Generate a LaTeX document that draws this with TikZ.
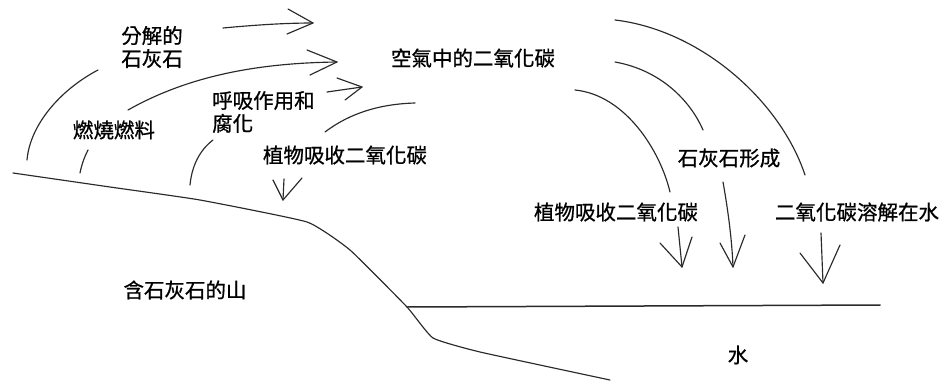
\documentclass[tikz,border=0pt]{standalone}
\usepackage{fontspec}
\newfontfamily\cjk[FakeBold=0.8]{Noto Sans CJK TC}
\definecolor{ink}{HTML}{2A2A2A}
\begin{document}
\begin{tikzpicture}[x=1pt,y=-1pt,
  stroke/.style={draw=ink,line width=1.15pt,line cap=round,line join=round},
  lbl/.style={inner sep=0pt,font=\cjk\fontsize{20.5}{23}\selectfont,text=black,align=left}]
\useasboundingbox[fill=white] (0,0) rectangle (946,383);

% ground and water
\draw[stroke] plot[smooth,tension=0.25] coordinates {(13,173) (110,187) (200,200) (307,222) (350,250) (407,307) (433,338) (480,352) (610,380)};
\coordinate (wl) at (407,307);
\coordinate (wr) at (880,305);
\draw[stroke,line width=1.5pt] (wl) -- (wr);

% labels
\node[lbl] (lime) at (152,47) {分解的\\石灰石};
\node[lbl] (air) at (473,58) {空氣中的二氧化碳};
\node[lbl] (burn) at (114,130) {燃燒燃料};
\node[lbl,anchor=west] (resp) at (212,112) {呼吸作用和\\腐化};
\node[lbl] (plantL) at (345,155) {植物吸收二氧化碳};
\node[lbl] (form) at (729,158) {石灰石形成};
\node[lbl] (plantR) at (616,212) {植物吸收二氧化碳};
\node[lbl] (diss) at (857,212) {二氧化碳溶解在水};
\node[lbl] (mount) at (185,290) {含石灰石的山};
\node[lbl] (water) at (738,355) {水};

% left side arcs (rising)
\coordinate (a1s) at (27,160); \coordinate (a1e) at (98,70);
\draw[stroke] (a1s) .. controls (30,125) and (60,90) .. (a1e);
\coordinate (a2s) at (80,173); \coordinate (a2e) at (88,150);
\draw[stroke] (a2s) .. controls (82,163) and (85,156) .. (a2e);
\coordinate (a3s) at (190,185); \coordinate (a3e) at (213,140);
\draw[stroke] (a3s) .. controls (192,165) and (200,150) .. (a3e);

% top arrow
\coordinate (t1s) at (223,28); \coordinate (t1e) at (313,23);
\draw[stroke] (t1s) .. controls (255,25) and (285,23) .. (t1e);
\draw[stroke] (288,9) -- (t1e) -- (287,34);

% second arrow
\coordinate (t2s) at (128,110); \coordinate (t2e) at (337,62);
\draw[stroke] (t2s) .. controls (190,75) and (260,63) .. (t2e);
\draw[stroke] (307,50) -- (t2e) -- (310,75);

% third arrow
\coordinate (t3s) at (327,92); \coordinate (t3e) at (362,87);
\draw[stroke] (t3s) -- (t3e);
\draw[stroke] (337,78) -- (t3e) -- (345,100);

% descending arc on left
\coordinate (d0s) at (325,132); \coordinate (d0e) at (415,103);
\draw[stroke] (d0s) .. controls (350,113) and (380,104) .. (d0e);
\coordinate (v0a) at (284,179); \coordinate (v0t) at (283,200);
\draw[stroke] (v0a) -- (v0t);
\draw[stroke] (273,180) -- (v0t) -- (302,178);

% right side arcs
\coordinate (rAs) at (575,90); \coordinate (rAe) at (670,192);
\draw[stroke] (rAs) .. controls (625,95) and (660,150) .. (rAe);
\coordinate (rBs) at (615,62); \coordinate (rBe) at (703,130);
\draw[stroke] (rBs) .. controls (660,70) and (690,100) .. (rBe);
\coordinate (rCs) at (615,20); \coordinate (rCe) at (805,175);
\draw[stroke] (rCs) .. controls (700,30) and (780,100) .. (rCe);

% right down arrows
\coordinate (s1) at (678,227); \coordinate (h1) at (682,267);
\draw[stroke] (s1) -- (h1);
\draw[stroke] (660,243) -- (h1) -- (692,237);
\coordinate (s2) at (723,182); \coordinate (h2) at (733,267);
\draw[stroke] (s2) .. controls (728,210) and (732,240) .. (h2);
\draw[stroke] (720,243) -- (h2) -- (745,235);
\coordinate (s3) at (821,233); \coordinate (h3) at (823,283);
\draw[stroke] (s3) -- (h3);
\draw[stroke] (800,253) -- (h3) -- (840,245);
\end{tikzpicture}
\end{document}
